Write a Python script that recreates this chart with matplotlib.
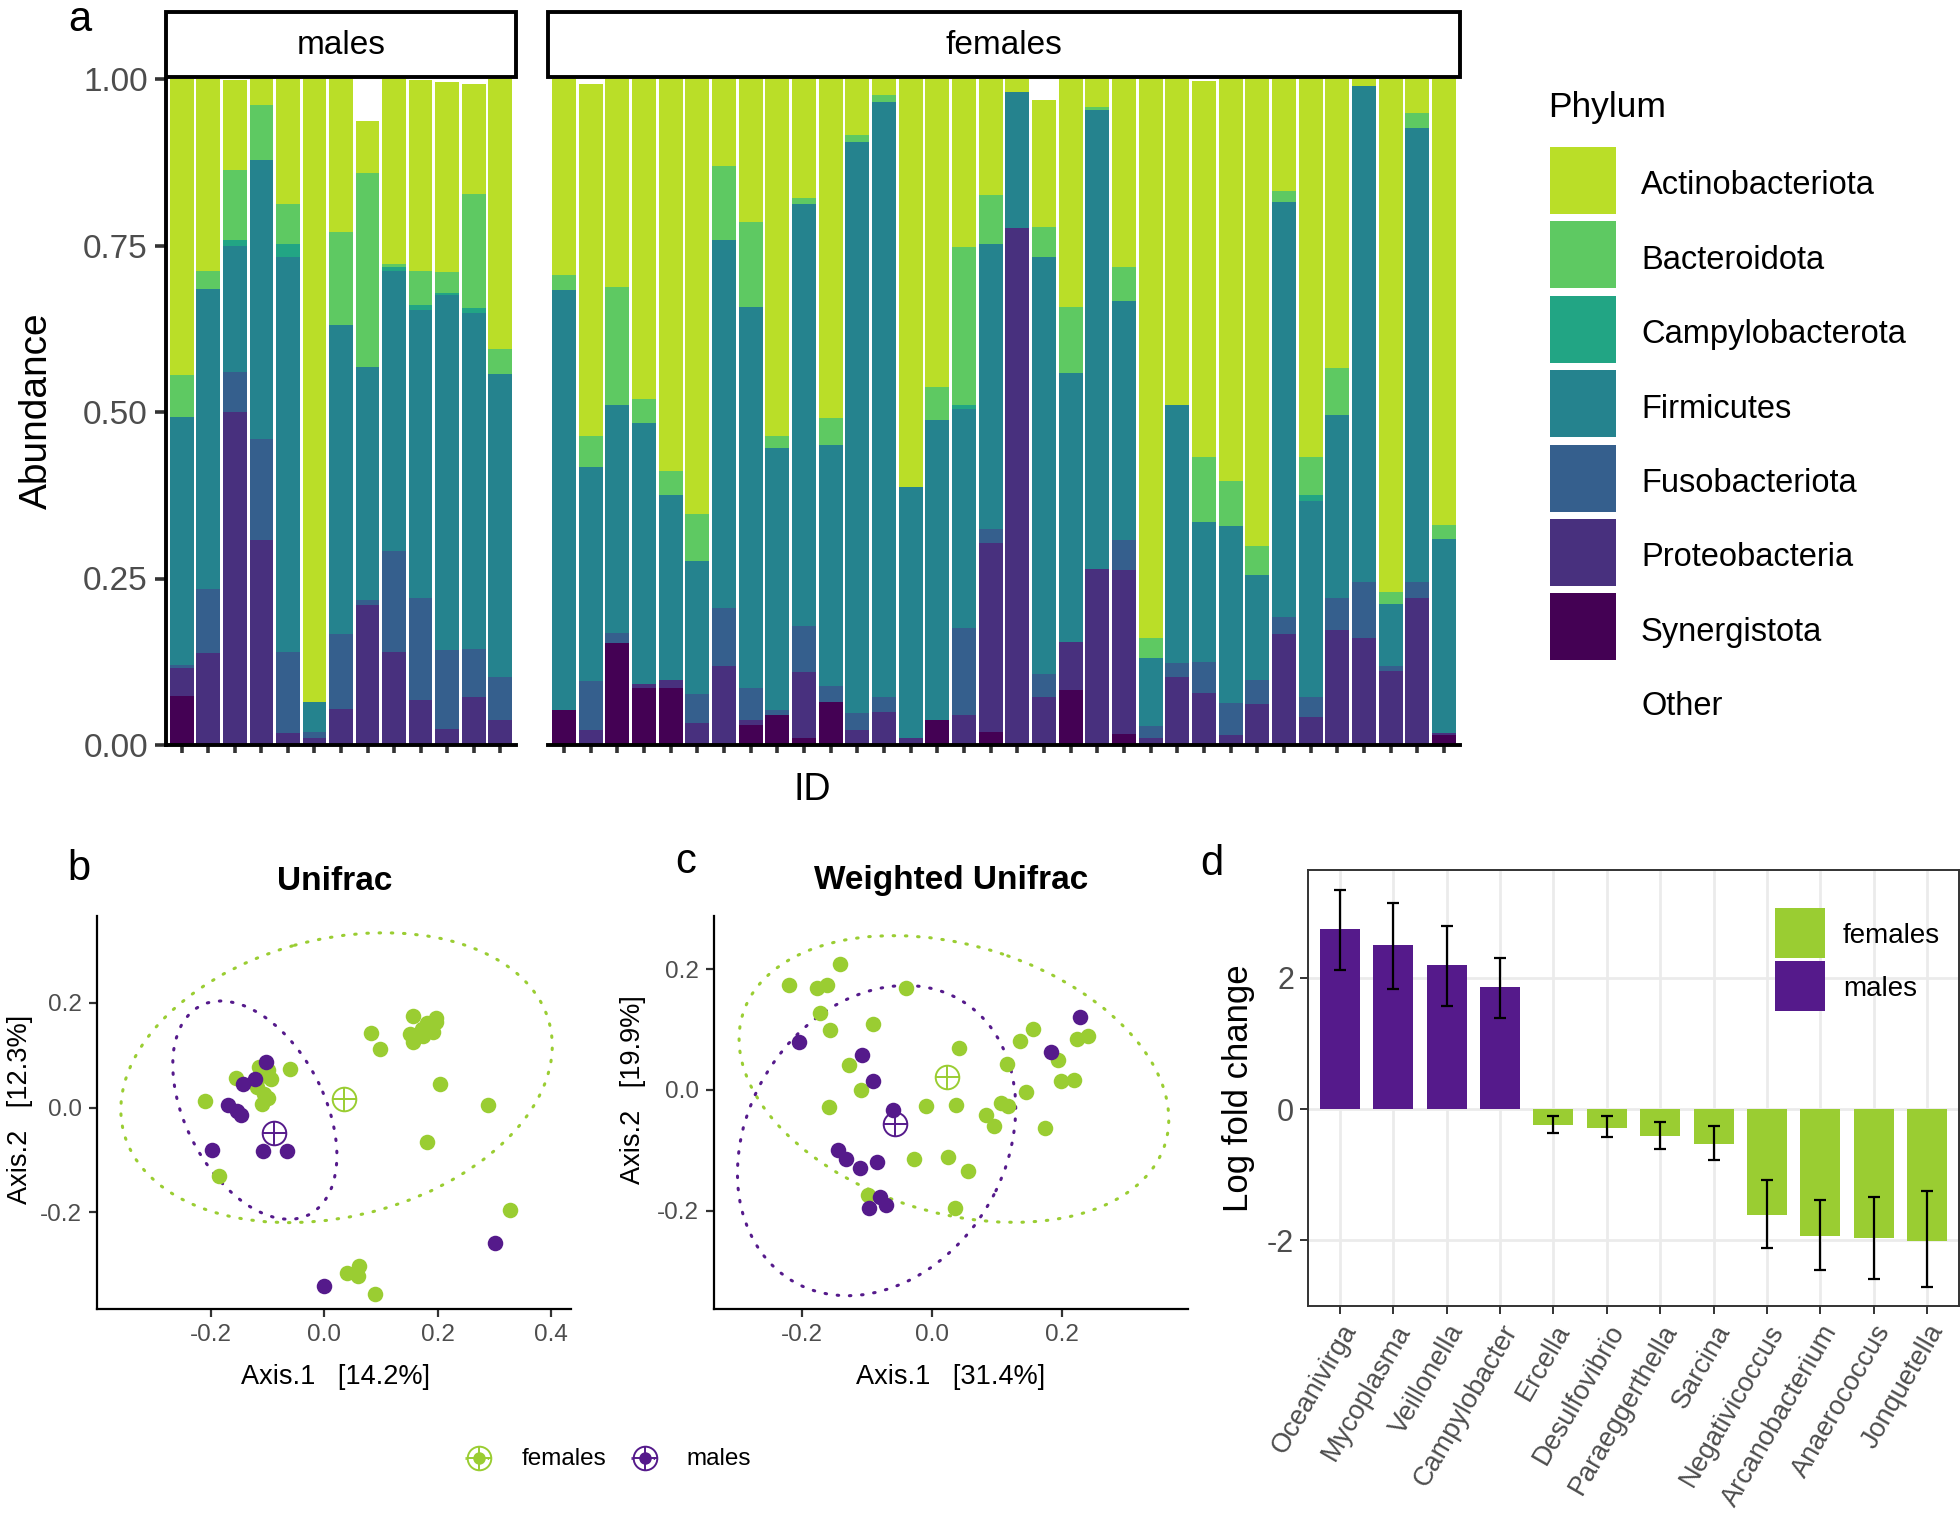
import numpy as np
import matplotlib
matplotlib.use('Agg')
import matplotlib.pyplot as plt
from matplotlib.patches import Rectangle, Ellipse
from matplotlib.lines import Line2D

plt.rcParams['font.family'] = ['Liberation Sans', 'DejaVu Sans']

# ---------------- data: panel a (upper edge of each phylum in the stack) ----------------
phyla = ['Synergistota', 'Proteobacteria', 'Fusobacteriota', 'Firmicutes',
         'Campylobacterota', 'Bacteroidota', 'Actinobacteriota']
phylum_colors = ['#440154', '#48307E', '#355F8D', '#25838E', '#22A584', '#5EC962', '#BADE28']
legend_order = ['Actinobacteriota', 'Bacteroidota', 'Campylobacterota', 'Firmicutes',
                'Fusobacteriota', 'Proteobacteria', 'Synergistota', 'Other']

syn_m = [.073, 0, 0, 0, 0, 0, 0, 0, 0, 0, 0, 0, 0]
pro_m = [.116, .138, .500, .308, .018, .011, .054, .210, .139, .067, .024, .072, .037]
fus_m = [.120, .234, .560, .459, .139, .020, .166, .217, .291, .220, .143, .144, .102]
fir_m = [.493, .684, .749, .879, .732, .064, .630, .567, .712, .653, .675, .649, .557]
cam_m = [.493, .684, .758, .879, .752, .064, .630, .567, .718, .661, .679, .656, .557]
bac_m = [.556, .712, .863, .961, .813, .064, .771, .859, .722, .712, .710, .828, .595]
act_m = [1.0, 1.0, .998, 1.0, 1.0, 1.0, 1.0, .937, 1.0, .998, .996, .993, 1.0]

syn_f = [.052, 0, .153, .086, .086, 0, 0, .030, .045, .010, .064, 0, 0, 0, .038, 0, .020,
         0, 0, .082, 0, .017, 0, 0, 0, 0, 0, 0, 0, 0, 0, 0, 0, .015]
pro_f = [.052, .022, .153, .091, .097, .033, .119, .038, .045, .109, .064, .022, .050, .011,
         .038, .045, .304, .777, .072, .155, .265, .263, .011, .102, .078, .015, .061, .166,
         .042, .172, .160, .111, .220, .018]
fus_f = [.052, .096, .168, .091, .097, .077, .205, .086, .053, .178, .089, .048, .072, .011,
         .038, .176, .325, .777, .106, .155, .265, .308, .028, .123, .125, .063, .098, .192,
         .072, .220, .244, .118, .244, .018]
fir_f = [.683, .417, .510, .484, .376, .277, .759, .658, .446, .813, .451, .906, .966, .387,
         .488, .504, .752, .980, .733, .558, .954, .666, .131, .511, .335, .329, .256, .815,
         .366, .496, .989, .211, .926, .310]
cam_f = [.683, .417, .510, .484, .376, .277, .759, .658, .446, .813, .451, .906, .966, .387,
         .488, .511, .752, .980, .733, .558, .954, .666, .131, .511, .335, .329, .256, .815,
         .376, .496, .989, .211, .926, .310]
bac_f = [.705, .464, .687, .520, .412, .347, .870, .786, .464, .821, .491, .916, .976, .387,
         .538, .747, .826, .980, .778, .657, .958, .717, .160, .511, .432, .397, .299, .832,
         .432, .566, .989, .229, .949, .331]
act_f = [1.0, .993, 1.0, 1.0, 1.0, 1.0, 1.0, 1.0, 1.0, 1.0, 1.0, 1.0, 1.0, 1.0, 1.0, 1.0, 1.0,
         1.0, .969, 1.0, 1.0, 1.0, 1.0, 1.0, .997, 1.0, 1.0, 1.0, 1.0, 1.0, 1.0, 1.0, 1.0, 1.0]

# ---------------- data: panels b, c (ordination) ----------------
fem_col = '#9ACD32'
mal_col = '#551A8B'

b_fem_x = [0.082, 0.098, 0.156, 0.197, 0.198, 0.182, 0.151, 0.156, 0.175, 0.192, 0.172,
           0.204, 0.288, 0.181, 0.327, 0.061, 0.040, 0.060, 0.089, -0.114, -0.098, -0.093,
           -0.111, -0.156, -0.209, -0.060, -0.105, -0.109, -0.098, -0.119, -0.185]
b_fem_y = [0.143, 0.112, 0.175, 0.171, 0.164, 0.161, 0.141, 0.126, 0.136, 0.144, 0.151,
           0.045, 0.005, -0.065, -0.195, -0.302, -0.316, -0.322, -0.357, 0.078, 0.071, 0.054,
           0.061, 0.057, 0.013, 0.073, 0.026, 0.006, 0.019, 0.039, -0.130]
b_mal_x = [-0.102, -0.122, -0.143, -0.169, -0.154, -0.147, -0.197, -0.107, -0.066, 0.301, 0.0]
b_mal_y = [0.087, 0.054, 0.045, 0.005, -0.006, -0.014, -0.082, -0.083, -0.083, -0.258, -0.342]
b_centroids = {'females': (0.035, 0.016), 'males': (-0.089, -0.048)}
b_ellipses = {'females': ((0.022, 0.057), [[0.1444, 0.0232], [0.0232, 0.0767]]),
              'males': ((-0.122, -0.005), [[0.0209, -0.0125], [-0.0125, 0.0435]])}

c_fem_x = [-0.141, -0.220, -0.177, -0.161, -0.040, -0.172, -0.157, -0.090, -0.127, -0.109,
           -0.158, 0.042, -0.009, 0.037, 0.155, 0.136, 0.116, 0.145, 0.106, 0.117, 0.084,
           0.095, 0.194, 0.198, 0.218, 0.224, 0.240, 0.174, -0.028, 0.025, 0.056, -0.098, 0.035]
c_fem_y = [0.209, 0.173, 0.168, 0.174, 0.168, 0.127, 0.099, 0.109, 0.042, 0.0, -0.028, 0.070,
           -0.027, -0.025, 0.100, 0.081, 0.043, -0.004, -0.022, -0.027, -0.042, -0.060, 0.049,
           0.015, 0.017, 0.084, 0.090, -0.064, -0.115, -0.111, -0.135, -0.174, -0.195]
c_mal_x = [-0.204, -0.107, -0.090, -0.059, -0.145, -0.132, -0.110, -0.084, -0.080, -0.096,
           -0.070, 0.228, 0.183]
c_mal_y = [0.079, 0.057, 0.015, -0.033, -0.100, -0.115, -0.129, -0.120, -0.178, -0.196,
           -0.191, 0.121, 0.062]
c_centroids = {'females': (0.023, 0.022), 'males': (-0.057, -0.056)}
c_ellipses = {'females': ((0.034, 0.018), [[0.1092, -0.0220], [-0.0220, 0.0564]]),
              'males': ((-0.085, -0.084), [[0.0458, 0.0115], [0.0115, 0.0660]])}

# ---------------- data: panel d (differential abundance) ----------------
genera = ['Oceanivirga', 'Mycoplasma', 'Veillonella', 'Campylobacter', 'Ercella',
          'Desulfovibrio', 'Paraeggerthella', 'Sarcina', 'Negativicoccus',
          'Arcanobacterium', 'Anaerococcus', 'Jonquetella']
lfc = [2.74, 2.50, 2.20, 1.86, -0.25, -0.29, -0.41, -0.54, -1.61, -1.93, -1.96, -2.01]
lfc_hi = [3.34, 3.14, 2.78, 2.30, -0.11, -0.11, -0.20, -0.26, -1.08, -1.38, -1.34, -1.25]
lfc_lo = [2.12, 1.83, 1.57, 1.38, -0.37, -0.43, -0.61, -0.78, -2.11, -2.45, -2.59, -2.71]
enriched = ['males'] * 4 + ['females'] * 8

W, H = 1960, 1522
fig = plt.figure(figsize=(W / 100, H / 100), dpi=100)
grey = '#4D4D4D'


def add_ax(l, t, r, b):
    return fig.add_axes([l / W, 1 - b / H, (r - l) / W, (b - t) / H])


def fig_xy(x, y):
    return x / W, 1 - y / H


# ================= panel a =================
def stacked(ax, tops):
    n = len(tops[0])
    x = np.arange(n)
    prev = np.zeros(n)
    for top, col in zip(tops, phylum_colors):
        top = np.array(top)
        ax.bar(x, top - prev, bottom=prev, width=0.9, color=col, linewidth=0)
        prev = top
    ax.bar(x, 1 - prev, bottom=prev, width=0.9, color='white', linewidth=0)
    ax.set_xlim(-0.6, n - 0.4)
    ax.set_ylim(0, 1)
    ax.set_xticks(x)
    ax.set_xticklabels([])
    for s in ['top', 'right']:
        ax.spines[s].set_visible(False)
    ax.spines['bottom'].set_linewidth(2.8)
    ax.spines['left'].set_linewidth(2.8)
    ax.tick_params(axis='x', length=6, width=2.6, color='#333333')


ax_m = add_ax(166, 79, 516, 745)
stacked(ax_m, [syn_m, pro_m, fus_m, fir_m, cam_m, bac_m, act_m])
ax_m.set_yticks([0, 0.25, 0.5, 0.75, 1.0])
ax_m.set_yticklabels(['0.00', '0.25', '0.50', '0.75', '1.00'], fontsize=24, color=grey)
ax_m.tick_params(axis='y', length=8, width=2.6, color='#333333', pad=5)

ax_f = add_ax(548, 79, 1460, 745)
stacked(ax_f, [syn_f, pro_f, fus_f, fir_f, cam_f, bac_f, act_f])
ax_f.spines['left'].set_visible(False)
ax_f.set_yticks([])

# facet strips
for (l, r, lab) in [(166, 516, 'males'), (548, 1460, 'females')]:
    x0, y0 = fig_xy(l, 77)
    fig.add_artist(Rectangle((x0, y0), (r - l) / W, 65 / H, transform=fig.transFigure,
                             fill=False, ec='black', lw=2.8))
    fig.text((l + r) / 2 / W, 1 - 46 / H, lab, fontsize=24, ha='center', va='center')

fig.text(*fig_xy(37, 411), 'Abundance', fontsize=28, rotation=90, ha='center', va='center')
fig.text(*fig_xy(812, 790), 'ID', fontsize=27, ha='center', va='center')
fig.text(*fig_xy(80, 20), 'a', fontsize=30, ha='center', va='center')

# phylum legend
fig.text(*fig_xy(1548, 108), 'Phylum', fontsize=25.5, ha='left', va='center')
leg_cols = dict(zip(phyla, phylum_colors))
leg_cols['Other'] = 'white'
for i, name in enumerate(legend_order):
    top = 147 + i * 74.4
    x0, y0 = fig_xy(1550, top + 67)
    fig.add_artist(Rectangle((x0, y0), 66 / W, 67 / H, transform=fig.transFigure,
                             color=leg_cols[name], lw=0))
    fig.text(*fig_xy(1641, top + 39), name, fontsize=23.5, ha='left', va='center')


# ================= panels b, c =================
def ordination(ax, fx, fy, mx, my, cents, ells, xlim, ylim, xt, yt):
    for (c, cov), col in [(ells['females'], fem_col), (ells['males'], mal_col)]:
        vals, vecs = np.linalg.eigh(np.array(cov))
        ang = np.degrees(np.arctan2(vecs[1, 1], vecs[0, 1]))
        e = Ellipse(c, 2 * np.sqrt(vals[1]), 2 * np.sqrt(vals[0]), angle=ang, fill=False,
                    ec=col, lw=2.2, linestyle=(0, (0.5, 3.5)))
        e.set_capstyle('round')
        ax.add_patch(e)
    ax.scatter(fx, fy, s=125, color=fem_col, lw=0, zorder=3)
    ax.scatter(mx, my, s=125, color=mal_col, lw=0, zorder=3)
    for key, col in [('females', fem_col), ('males', mal_col)]:
        cx, cy = cents[key]
        ax.plot([cx], [cy], marker='o', ms=17, mfc='none', mec=col, mew=1.4, zorder=4)
        ax.plot([cx], [cy], marker='+', ms=17, mec=col, mew=1.4, zorder=4)
    ax.set_xlim(*xlim)
    ax.set_ylim(*ylim)
    ax.set_xticks(xt)
    ax.set_xticklabels([f'{v:.1f}' for v in xt], fontsize=17.5, color=grey)
    ax.set_yticks(yt)
    ax.set_yticklabels([f'{v:.1f}' for v in yt], fontsize=17.5, color=grey)
    for s in ['top', 'right']:
        ax.spines[s].set_visible(False)
    for s in ['left', 'bottom']:
        ax.spines[s].set_linewidth(1.6)
    ax.tick_params(length=6, width=1.6, color='#333333', pad=5)


ax_b = add_ax(97, 916, 571, 1309)
ordination(ax_b, b_fem_x, b_fem_y, b_mal_x, b_mal_y, b_centroids, b_ellipses,
           (-0.40, 0.435), (-0.385, 0.366), [-0.2, 0.0, 0.2, 0.4], [-0.2, 0.0, 0.2])
ax_c = add_ax(714, 916, 1188, 1309)
ordination(ax_c, c_fem_x, c_fem_y, c_mal_x, c_mal_y, c_centroids, c_ellipses,
           (-0.335, 0.394), (-0.363, 0.288), [-0.2, 0.0, 0.2], [-0.2, 0.0, 0.2])

fig.text(*fig_xy(335, 881), 'Unifrac', fontsize=24, fontweight='bold', ha='center', va='center')
fig.text(*fig_xy(951, 881), 'Weighted Unifrac', fontsize=24, fontweight='bold',
         ha='center', va='center')
fig.text(*fig_xy(335, 1377), 'Axis.1   [14.2%]', fontsize=19.5, ha='center', va='center')
fig.text(*fig_xy(951, 1377), 'Axis.1   [31.4%]', fontsize=19.5, ha='center', va='center')
fig.text(*fig_xy(20, 1109), 'Axis.2   [12.3%]', fontsize=19.5, rotation=90,
         ha='center', va='center')
fig.text(*fig_xy(633, 1090), 'Axis.2   [19.9%]', fontsize=19.5, rotation=90,
         ha='center', va='center')
fig.text(*fig_xy(79, 869), 'b', fontsize=30, ha='center', va='center')
fig.text(*fig_xy(686, 862), 'c', fontsize=30, ha='center', va='center')

# group legend below b/c
for xm, xt_, lab, col in [(479, 522, 'females', fem_col), (645, 686, 'males', mal_col)]:
    lx, ly = fig_xy(xm, 1458)
    fig.add_artist(Line2D([lx - 14 / W, lx + 14 / W], [ly, ly], transform=fig.transFigure,
                          color=col, lw=2, linestyle=(0, (0.5, 3.5))))
    fig.add_artist(Line2D([lx], [ly], marker='o', ms=9, color=col, mew=0,
                          transform=fig.transFigure))
    fig.add_artist(Line2D([lx], [ly], marker='o', ms=17, mfc='none', mec=col, mew=1.4,
                          transform=fig.transFigure))
    fig.add_artist(Line2D([lx], [ly], marker='+', ms=17, mec=col, mew=1.4,
                          transform=fig.transFigure))
    fig.text(*fig_xy(xt_, 1459), lab, fontsize=17.5, ha='left', va='center')

# ================= panel d =================
ax_d = add_ax(1308, 870, 1959, 1306)
xd = np.arange(len(genera))
bar_cols = [mal_col if g == 'males' else fem_col for g in enriched]
ax_d.bar(xd, lfc, width=0.75, color=bar_cols, zorder=2)
yerr = [np.array(lfc) - np.array(lfc_lo), np.array(lfc_hi) - np.array(lfc)]
ax_d.errorbar(xd, lfc, yerr=yerr, fmt='none', ecolor='black', elinewidth=1.6,
              capsize=4, capthick=1.6, zorder=3)
ax_d.set_xlim(-0.6, len(genera) - 0.4)
ax_d.set_ylim(-3.0, 3.64)
ax_d.set_yticks([-2, 0, 2])
ax_d.set_yticklabels(['-2', '0', '2'], fontsize=22, color=grey)
ax_d.set_xticks(xd)
ax_d.set_xticklabels(genera, rotation=60, ha='right', va='top', rotation_mode='anchor',
                     fontsize=19.5, color=grey)
ax_d.grid(True, color='#EBEBEB', lw=2.0, zorder=0)
ax_d.set_axisbelow(True)
for s in ax_d.spines.values():
    s.set_color('#333333')
    s.set_linewidth(1.4)
ax_d.tick_params(length=6, width=1.4, color='#333333', pad=4)
fig.text(*fig_xy(1238, 1088), 'Log fold change', fontsize=25, rotation=90,
         ha='center', va='center')
fig.text(*fig_xy(1212, 864), 'd', fontsize=30, ha='center', va='center')

for i, (lab, col) in enumerate([('females', fem_col), ('males', mal_col)]):
    top = 908 + i * 53
    x0, y0 = fig_xy(1775, top + 50)
    fig.add_artist(Rectangle((x0, y0), 50 / W, 50 / H, transform=fig.transFigure,
                             color=col, lw=0))
    fig.text(*fig_xy(1843, top + 28), lab, fontsize=20, ha='left', va='center')

fig.savefig('out.png', dpi=100)
